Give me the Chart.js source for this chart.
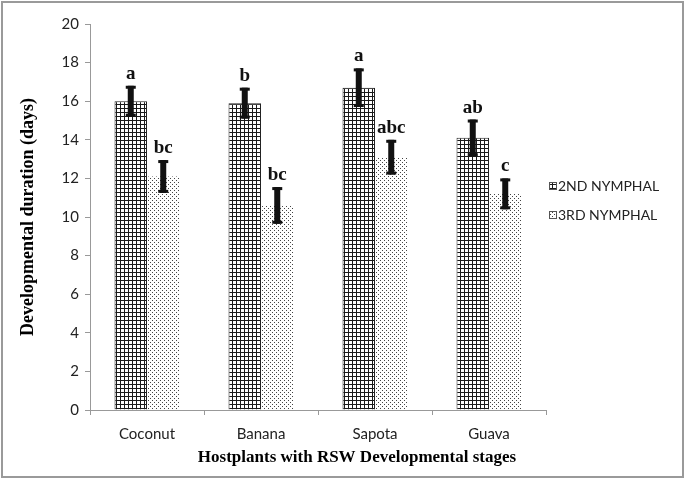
<!DOCTYPE html>
<html lang="en">
  <head>
    <meta charset="UTF-8">
    <title>Developmental duration</title>
    <script src="https://cdn.jsdelivr.net/npm/chart.js"></script>
    <style>
      body { margin: 0; background: #fff; }
      canvas { display: block; }
    </style>
  </head>
  <body>
    <canvas id="barChart" width="685" height="479"></canvas>
    <script>
      var hostplants = ['Coconut', 'Banana', 'Sapota', 'Guava'];
      var secondNymphal = [16.0, 15.9, 16.7, 14.1];
      var thirdNymphal = [12.1, 10.6, 13.1, 11.2];
      var secondErr = [0.8, 0.8, 1.0, 0.95];
      var thirdErr = [0.85, 0.95, 0.9, 0.8];
      var secondLetters = ['a', 'b', 'a', 'ab'];
      var thirdLetters = ['bc', 'bc', 'abc', 'c'];

      var tickFont = { family: 'Lato, "Open Sans", sans-serif', size: 15 };
      var serifBold = '"Liberation Serif", "DejaVu Serif", serif';

      // small tiles for the two fill styles
      function gridPattern() {
        var c = document.createElement('canvas');
        c.width = 4; c.height = 4;
        var g = c.getContext('2d');
        g.fillStyle = '#fff';
        g.fillRect(0, 0, 4, 4);
        g.fillStyle = '#1a1a1a';
        g.fillRect(0, 0, 4, 1);
        g.fillRect(0, 0, 1, 4);
        return g.createPattern(c, 'repeat');
      }
      function dotPattern() {
        var c = document.createElement('canvas');
        c.width = 4; c.height = 4;
        var g = c.getContext('2d');
        g.fillStyle = '#fff';
        g.fillRect(0, 0, 4, 4);
        g.fillStyle = '#444';
        g.fillRect(0, 0, 1, 1);
        g.fillRect(2, 2, 1, 1);
        return g.createPattern(c, 'repeat');
      }
      var fills = [gridPattern(), dotPattern()];

      var extras = {
        id: 'extras',
        beforeDraw: function(chart) {
          var ctx = chart.ctx;
          ctx.save();
          ctx.strokeStyle = '#9a9a9a';
          ctx.lineWidth = 2;
          ctx.strokeRect(2, 2, chart.width - 4, chart.height - 4);
          ctx.restore();
        },
        afterDatasetsDraw: function(chart) {
          var ctx = chart.ctx;
          var y = chart.scales.y;
          var errs = [secondErr, thirdErr];
          var letters = [secondLetters, thirdLetters];
          ctx.save();
          chart.data.datasets.forEach(function(ds, i) {
            chart.getDatasetMeta(i).data.forEach(function(bar, j) {
              var v = ds.data[j];
              var top = y.getPixelForValue(v + errs[i][j]);
              var bot = y.getPixelForValue(v - errs[i][j]);
              ctx.fillStyle = '#111';
              ctx.fillRect(bar.x - 3, top, 6, bot - top);
              ctx.fillRect(bar.x - 5, top, 10, 3);
              ctx.fillRect(bar.x - 5, bot - 3, 10, 3);
              ctx.font = 'bold 19px ' + serifBold;
              ctx.textAlign = 'center';
              ctx.textBaseline = 'alphabetic';
              ctx.fillText(letters[i][j], bar.x, top - 7);
            });
          });

          // axis titles
          ctx.fillStyle = '#000';
          ctx.font = 'bold 18px ' + serifBold;
          ctx.textAlign = 'center';
          ctx.textBaseline = 'middle';
          ctx.save();
          ctx.translate(28, (chart.chartArea.top + chart.chartArea.bottom) / 2);
          ctx.rotate(-Math.PI / 2);
          ctx.fillText('Developmental duration (days)', 0, 0);
          ctx.restore();
          ctx.font = 'bold 17px ' + serifBold;
          ctx.fillText('Hostplants with RSW Developmental stages', 357, 458);

          // legend
          ctx.font = '14px ' + tickFont.family;
          ctx.textAlign = 'left';
          chart.data.datasets.forEach(function(ds, i) {
            var ly = 186 + i * 29;
            ctx.fillStyle = fills[i];
            ctx.fillRect(549, ly - 4, 8, 8);
            ctx.strokeStyle = '#555';
            ctx.lineWidth = 1;
            ctx.strokeRect(549.5, ly - 3.5, 7, 7);
            ctx.fillStyle = '#222';
            ctx.fillText(ds.label, 558, ly);
          });
          ctx.restore();
        }
      };

      new Chart(document.getElementById('barChart'), {
        type: 'bar',
        data: {
          labels: hostplants,
          datasets: [
            {
              label: '2ND NYMPHAL',
              data: secondNymphal,
              backgroundColor: fills[0],
              borderColor: '#222',
              borderWidth: 1
            },
            {
              label: '3RD NYMPHAL',
              data: thirdNymphal,
              backgroundColor: fills[1],
              borderWidth: 0
            }
          ]
        },
        options: {
          responsive: false,
          animation: false,
          layout: { padding: { top: 24, right: 139, left: 0, bottom: 0 } },
          plugins: {
            legend: { display: false },
            tooltip: { enabled: false }
          },
          datasets: { bar: { barPercentage: 1, categoryPercentage: 0.57 } },
          scales: {
            x: {
              afterFit: function(s) { s.height = 69; },
              grid: { display: true, drawOnChartArea: false, tickLength: 5, color: '#999' },
              border: { color: '#999' },
              ticks: { color: '#222', font: tickFont, padding: 10 }
            },
            y: {
              min: 0,
              max: 20,
              afterFit: function(s) { s.width = 90; },
              grid: { display: true, drawOnChartArea: false, tickLength: 5, color: '#999' },
              border: { color: '#999' },
              ticks: { stepSize: 2, color: '#222', font: tickFont, padding: 6 }
            }
          }
        },
        plugins: [extras]
      });
    </script>
  </body>
</html>
